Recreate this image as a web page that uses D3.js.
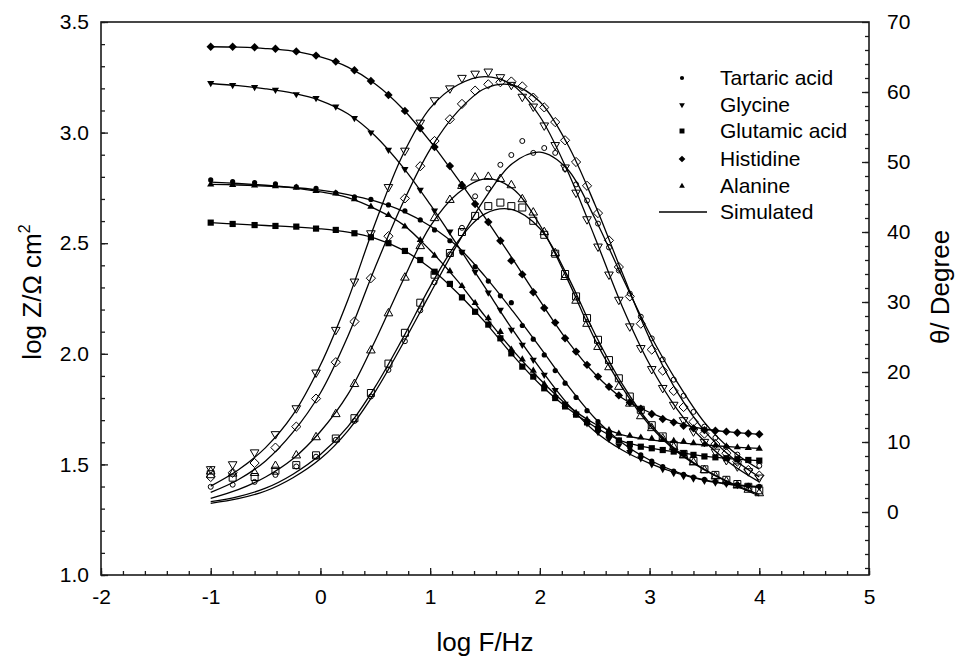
<!DOCTYPE html>
<html>
<head>
<meta charset="utf-8">
<script src="https://cdn.jsdelivr.net/npm/d3@7"></script>
<style>
  html, body { margin: 0; padding: 0; background: #fff; }
  svg { display: block; font-family: Arial, "Liberation Sans", sans-serif; }
</style>
</head>
<body>
<svg id="chart" width="955" height="657"></svg>
<script>
// log frequency of every measured point
const logF = [-1.0, -0.8, -0.6, -0.41, -0.22, -0.04, 0.14, 0.31, 0.46, 0.62, 0.77, 0.91,
  1.04, 1.18, 1.29, 1.41, 1.53, 1.64, 1.74, 1.84, 1.94, 2.04, 2.14, 2.23, 2.33, 2.43,
  2.53, 2.63, 2.72, 2.82, 2.92, 3.02, 3.12, 3.22, 3.31, 3.40, 3.50, 3.60, 3.70, 3.80, 3.90, 4.00];

// log Z (left axis), measured
const zTartaric = [2.786, 2.778, 2.774, 2.768, 2.755, 2.748, 2.728, 2.710, 2.698, 2.673, 2.646, 2.605,
  2.560, 2.511, 2.459, 2.394, 2.329, 2.262, 2.231, 2.128, 2.066, 1.995, 1.924, 1.867,
  1.803, 1.743, 1.693, 1.648, 1.610, 1.575, 1.543, 1.515, 1.490, 1.470, 1.455, 1.443,
  1.432, 1.423, 1.415, 1.409, 1.405, 1.401];
const zGlycine = [3.223, 3.214, 3.205, 3.193, 3.173, 3.155, 3.117, 3.065, 3.000, 2.921, 2.834, 2.741,
  2.647, 2.552, 2.460, 2.370, 2.276, 2.198, 2.108, 2.040, 1.972, 1.904, 1.835, 1.773,
  1.728, 1.685, 1.645, 1.615, 1.585, 1.555, 1.527, 1.500, 1.478, 1.460, 1.446, 1.435,
  1.425, 1.417, 1.411, 1.406, 1.402, 1.398];
const zGlutamic = [2.593, 2.587, 2.582, 2.578, 2.575, 2.566, 2.560, 2.545, 2.527, 2.500, 2.465, 2.424,
  2.371, 2.316, 2.255, 2.190, 2.132, 2.070, 2.002, 1.942, 1.897, 1.844, 1.800, 1.762,
  1.725, 1.690, 1.660, 1.632, 1.608, 1.592, 1.580, 1.573, 1.565, 1.558, 1.550, 1.543,
  1.536, 1.532, 1.528, 1.523, 1.520, 1.517];
const zHistidine = [3.388, 3.388, 3.386, 3.379, 3.367, 3.348, 3.321, 3.282, 3.233, 3.170, 3.098, 3.020,
  2.935, 2.849, 2.762, 2.677, 2.596, 2.511, 2.421, 2.359, 2.278, 2.207, 2.141, 2.070,
  2.010, 1.950, 1.897, 1.851, 1.812, 1.780, 1.752, 1.728, 1.705, 1.690, 1.675, 1.663,
  1.655, 1.652, 1.648, 1.643, 1.640, 1.636];
const zAlanine = [2.766, 2.764, 2.762, 2.758, 2.752, 2.737, 2.726, 2.700, 2.666, 2.628, 2.576, 2.515,
  2.444, 2.374, 2.307, 2.230, 2.162, 2.100, 2.020, 1.975, 1.924, 1.863, 1.812, 1.772,
  1.733, 1.703, 1.677, 1.655, 1.640, 1.630, 1.622, 1.617, 1.612, 1.607, 1.603, 1.597,
  1.591, 1.586, 1.582, 1.578, 1.575, 1.572];

// phase angle (right axis), measured
const pTartaric = [3.6, 3.9, 4.3, 5.3, 6.5, 7.9, 10.3, 13.0, 16.5, 20.3, 24.4, 28.8,
  32.8, 36.8, 40.6, 45.1, 46.2, 49.6, 51.0, 53.0, 51.3, 52.0, 51.3, 49.0,
  46.8, 44.5, 41.2, 37.8, 34.5, 31.2, 27.9, 24.8, 21.8, 18.9, 16.6, 14.3,
  12.2, 10.6, 9.3, 8.2, 7.4, 6.6];
const pGlycine = [6.1, 6.8, 8.5, 11.1, 14.8, 19.9, 26.0, 32.9, 39.8, 46.4, 51.6, 55.6,
  58.8, 60.5, 62.0, 62.6, 62.9, 62.1, 61.0, 59.3, 57.9, 55.2, 52.4, 49.2,
  45.6, 41.8, 37.9, 33.9, 30.3, 26.5, 23.4, 20.4, 17.7, 15.3, 13.1, 11.5,
  10.0, 8.6, 7.4, 6.5, 5.8, 4.9];
const pGlutamic = [5.4, 4.9, 5.0, 5.9, 6.7, 8.1, 10.5, 13.4, 17.0, 21.2, 25.6, 29.9,
  33.9, 37.0, 40.0, 42.3, 43.7, 44.2, 43.7, 43.5, 41.6, 39.6, 36.9, 34.0,
  30.8, 27.7, 24.6, 21.7, 19.1, 16.5, 14.6, 12.4, 10.8, 9.6, 8.3, 7.3,
  6.1, 5.3, 4.6, 4.0, 3.6, 3.1];
const pHistidine = [5.0, 5.6, 7.0, 9.2, 12.2, 16.2, 21.4, 27.2, 33.4, 39.4, 44.8, 49.4,
  53.0, 56.1, 58.3, 60.2, 61.1, 61.4, 61.5, 60.8, 59.2, 57.8, 55.7, 53.1,
  50.0, 46.6, 42.7, 38.8, 35.0, 30.8, 26.9, 23.2, 20.2, 17.3, 15.0, 12.9,
  11.2, 9.7, 8.4, 7.2, 6.0, 5.2];
const pAlanine = [5.8, 5.5, 5.6, 6.6, 8.1, 10.7, 14.0, 18.3, 23.1, 28.4, 33.5, 38.0,
  42.0, 44.6, 46.6, 47.8, 47.9, 47.6, 46.7, 44.7, 42.8, 40.0, 37.0, 33.6,
  30.2, 26.9, 23.6, 20.7, 17.9, 15.5, 13.7, 12.0, 10.5, 9.3, 8.1, 7.1,
  6.0, 5.1, 4.4, 3.8, 3.2, 2.7];

// simulated (fitted) curves
const simF = [-1, -0.75, -0.5, -0.25, 0, 0.25, 0.5, 0.75, 1, 1.25, 1.5, 1.75, 2, 2.25, 2.5, 2.75, 3, 3.25, 3.5, 3.75, 4];
const simZTartaric = [2.776, 2.770, 2.762, 2.752, 2.740, 2.720, 2.690, 2.645, 2.578, 2.485, 2.350, 2.195, 2.030, 1.860, 1.710, 1.598, 1.520, 1.465, 1.430, 1.410, 1.400];
const simZGlycine = [3.222, 3.212, 3.198, 3.178, 3.145, 3.085, 2.985, 2.845, 2.675, 2.490, 2.300, 2.110, 1.935, 1.775, 1.650, 1.565, 1.505, 1.460, 1.428, 1.408, 1.396];
const simZGlutamic = [2.593, 2.586, 2.580, 2.574, 2.565, 2.550, 2.522, 2.470, 2.388, 2.275, 2.143, 1.995, 1.862, 1.755, 1.670, 1.605, 1.575, 1.555, 1.537, 1.525, 1.517];
const simZHistidine = [3.388, 3.386, 3.380, 3.368, 3.342, 3.296, 3.220, 3.108, 2.960, 2.792, 2.616, 2.430, 2.240, 2.060, 1.910, 1.800, 1.735, 1.688, 1.660, 1.646, 1.636];
const simZAlanine = [2.766, 2.763, 2.758, 2.750, 2.732, 2.706, 2.655, 2.585, 2.468, 2.330, 2.170, 2.018, 1.885, 1.768, 1.684, 1.634, 1.612, 1.598, 1.588, 1.579, 1.572];
const simPTartaric = [1.24, 1.9, 3.0, 4.9, 7.6, 11.6, 17.2, 24.0, 31.2, 38.3, 44.8, 49.8, 51.4, 49.0, 42.0, 33.6, 25.5, 18.6, 12.8, 8.8, 6.1];
const simPGlycine = [3.7, 6.0, 9.2, 13.9, 21.0, 30.3, 41.3, 51.0, 57.7, 61.0, 62.2, 61.0, 56.5, 48.8, 39.3, 29.4, 21.1, 14.7, 10.1, 6.8, 4.3];
const simPGlutamic = [1.47, 2.2, 3.4, 5.4, 8.2, 12.2, 17.9, 24.8, 32.2, 38.6, 42.6, 43.2, 40.5, 33.8, 25.5, 18.3, 12.7, 8.8, 6.1, 4.1, 2.5];
const simPHistidine = [2.8, 4.6, 7.3, 11.4, 17.0, 25.1, 35.0, 44.1, 51.8, 57.2, 60.5, 61.0, 58.6, 52.6, 44.0, 34.2, 24.8, 17.2, 11.6, 7.8, 5.0];
const simPAlanine = [1.96, 3.2, 5.0, 7.6, 11.5, 16.8, 24.5, 33.0, 40.8, 45.5, 47.6, 46.2, 41.0, 33.3, 24.7, 17.8, 12.4, 8.6, 6.0, 4.0, 2.3];

const names = ['Tartaric acid', 'Glycine', 'Glutamic acid', 'Histidine', 'Alanine'];
const shapes = ['circle', 'triDown', 'square', 'diamond', 'triUp'];

const svg = d3.select('#chart');
const m = { left: 101, right: 869, top: 22, bottom: 575 };

const x = d3.scaleLinear().domain([-2, 5]).range([m.left, m.right]);
const yZ = d3.scaleLinear().domain([1, 3.5]).range([m.bottom, m.top]);
const yP = d3.scaleLinear().domain([-9, 70]).range([m.bottom, m.top]);

const ink = '#1a1a1a';

// marker shapes, s = half size
function shapePath(type, s) {
  const p = d3.path();
  if (type === 'circle') {
    p.moveTo(s, 0); p.arc(0, 0, s, 0, 2 * Math.PI);
  } else if (type === 'square') {
    p.rect(-s, -s, 2 * s, 2 * s);
  } else if (type === 'diamond') {
    p.moveTo(0, -s); p.lineTo(s, 0); p.lineTo(0, s); p.lineTo(-s, 0); p.closePath();
  } else if (type === 'triUp') {
    p.moveTo(0, -s); p.lineTo(s * 0.9, s * 0.55); p.lineTo(-s * 0.9, s * 0.55); p.closePath();
  } else {
    p.moveTo(0, s); p.lineTo(s * 0.9, -s * 0.55); p.lineTo(-s * 0.9, -s * 0.55); p.closePath();
  }
  return p.toString();
}
const solidSize = { circle: 2.6, triDown: 4.0, square: 3.1, diamond: 4.2, triUp: 4.0 };
const hollowSize = { circle: 2.5, triDown: 4.8, square: 3.5, diamond: 4.6, triUp: 4.8 };

// plain hyphen for negatives, as in the original
const numFmt = d => String(d);

// axes: ticks point inward
const gAx = svg.append('g').attr('class', 'axes');

function styleAxis(g) {
  g.select('.domain').remove();
  g.selectAll('line').attr('stroke', ink).attr('stroke-width', 1.3);
  g.selectAll('text').attr('fill', '#000').attr('font-size', 21);
}

gAx.append('g').attr('transform', `translate(${m.left},0)`)
  .call(d3.axisLeft(yZ).tickValues(d3.range(10, 36).map(d => d / 10)).tickSize(-4).tickFormat(''))
  .call(styleAxis);
gAx.append('g').attr('transform', `translate(${m.left},0)`)
  .call(d3.axisLeft(yZ).tickValues([1, 1.5, 2, 2.5, 3, 3.5]).tickSize(-7).tickPadding(12).tickFormat(d3.format('.1f')))
  .call(styleAxis);

gAx.append('g').attr('transform', `translate(0,${m.bottom})`)
  .call(d3.axisBottom(x).tickValues(d3.range(-20, 51, 2).map(d => d / 10)).tickSize(-4).tickFormat(''))
  .call(styleAxis);
gAx.append('g').attr('transform', `translate(0,${m.bottom})`)
  .call(d3.axisBottom(x).tickValues(d3.range(-2, 6)).tickSize(-7).tickPadding(14).tickFormat(numFmt))
  .call(styleAxis);

gAx.append('g').attr('transform', `translate(${m.right},0)`)
  .call(d3.axisRight(yP).tickValues(d3.range(-8, 70, 2)).tickSize(-4).tickFormat(''))
  .call(styleAxis);
gAx.append('g').attr('transform', `translate(${m.right},0)`)
  .call(d3.axisRight(yP).tickValues(d3.range(0, 71, 10)).tickSize(-7).tickPadding(18).tickFormat(numFmt))
  .call(styleAxis);

// frame
svg.append('rect')
  .attr('x', m.left).attr('y', m.top)
  .attr('width', m.right - m.left).attr('height', m.bottom - m.top)
  .attr('fill', 'none').attr('stroke', ink).attr('stroke-width', 1.6);

// axis titles
svg.append('text')
  .attr('transform', 'translate(41,292) rotate(-90)')
  .attr('text-anchor', 'middle').attr('font-size', 26)
  .text('log Z/\u03A9 cm')
  .append('tspan').attr('dy', -11).attr('font-size', 16).text('2');

svg.append('text')
  .attr('transform', 'translate(949,287) rotate(-90)')
  .attr('text-anchor', 'middle').attr('font-size', 26)
  .text('\u03B8/ Degree');

svg.append('text')
  .attr('x', (m.left + m.right) / 2).attr('y', 651)
  .attr('text-anchor', 'middle').attr('font-size', 26)
  .text('log F/Hz');

// simulated lines
const simZ = [simZTartaric, simZGlycine, simZGlutamic, simZHistidine, simZAlanine];
const simP = [simPTartaric, simPGlycine, simPGlutamic, simPHistidine, simPAlanine];
const lineZ = d3.line().x((d, i) => x(simF[i])).y(d => yZ(d)).curve(d3.curveCatmullRom.alpha(0.5));
const lineP = d3.line().x((d, i) => x(simF[i])).y(d => yP(d)).curve(d3.curveCatmullRom.alpha(0.5));

const gLines = svg.append('g').attr('fill', 'none').attr('stroke', '#000').attr('stroke-width', 1.3);
simZ.forEach(s => gLines.append('path').attr('d', lineZ(s)));
simP.forEach(s => gLines.append('path').attr('d', lineP(s)));

// measured points
const zSeries = [zTartaric, zGlycine, zGlutamic, zHistidine, zAlanine];
const pSeries = [pTartaric, pGlycine, pGlutamic, pHistidine, pAlanine];

const gPts = svg.append('g');
pSeries.forEach((vals, k) => {
  gPts.append('g').selectAll('path')
    .data(vals)
    .join('path')
    .attr('transform', (d, i) => `translate(${x(logF[i])},${yP(d)})`)
    .attr('d', shapePath(shapes[k], hollowSize[shapes[k]]))
    .attr('fill', 'none').attr('stroke', '#000').attr('stroke-width', 1);
});
zSeries.forEach((vals, k) => {
  gPts.append('g').selectAll('path')
    .data(vals)
    .join('path')
    .attr('transform', (d, i) => `translate(${x(logF[i])},${yZ(d)})`)
    .attr('d', shapePath(shapes[k], solidSize[shapes[k]]))
    .attr('fill', '#000');
});

// legend
const leg = svg.append('g').attr('font-size', 21);
const legY = [78, 105, 131, 159, 186];
names.forEach((n, k) => {
  leg.append('path')
    .attr('transform', `translate(682,${legY[k]})`)
    .attr('d', shapePath(shapes[k], solidSize[shapes[k]] * 0.8))
    .attr('fill', '#000');
  leg.append('text').attr('x', 720).attr('y', legY[k]).attr('dy', '0.35em').text(n);
});
leg.append('line').attr('x1', 659).attr('x2', 707).attr('y1', 212).attr('y2', 212)
  .attr('stroke', '#000').attr('stroke-width', 1.3);
leg.append('text').attr('x', 720).attr('y', 212).attr('dy', '0.35em').text('Simulated');
</script>
</body>
</html>
